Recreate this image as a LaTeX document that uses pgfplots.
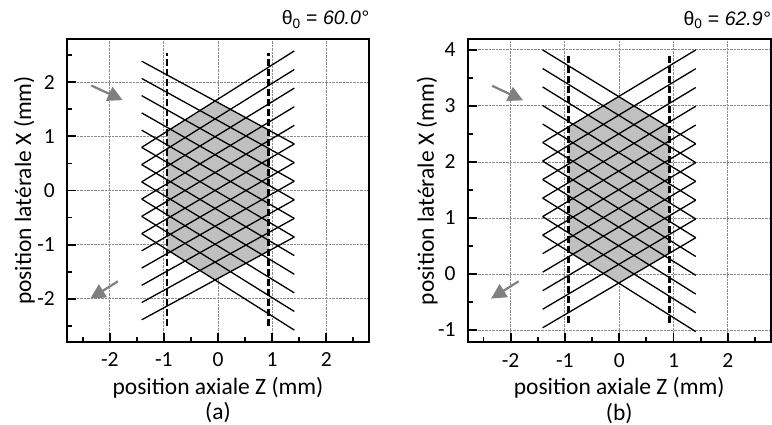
\documentclass[border=0pt]{standalone}
\usepackage{pgfplots}
\pgfplotsset{compat=1.18}
\usepackage{fontspec}
\setmainfont{Carlito}
\newfontfamily\arialfont{Liberation Sans}
\usetikzlibrary{arrows.meta}
\definecolor{hexgray}{RGB}{192,192,192}
\definecolor{arrgray}{RGB}{128,128,128}
\newcommand{\lblfont}{\fontsize{23.5}{23.5}\selectfont}
\pgfplotsset{
  myaxis/.style={
    scale only axis,
    axis line style={line width=2.4pt},
    xmin=-2.79, xmax=2.79,
    xtick={-2,-1,0,1,2}, xticklabels={-2,-1,0,1,2},
    minor xtick={-2.5,-1.5,-0.5,0.5,1.5,2.5},
    tick align=inside, xtick pos=bottom, ytick pos=left,
    major tick length=9pt, minor tick length=5pt,
    every tick/.style={line width=1.8pt, black},
    grid=major,
    major grid style={densely dotted, black!45, line width=0.9pt},
    ticklabel style={font=\fontsize{21.5}{21.5}\selectfont, inner sep=0pt},
    xticklabel style={anchor=base, yshift=-25pt},
    yticklabel style={anchor=east, xshift=-12pt},
    unbounded coords=jump,
    clip=false,
  },
  mesh/.style={black, line width=1.3pt},
  dash/.style={black, line width=2.6pt, dash pattern=on 7pt off 3pt},
  arr/.style={arrgray, line width=2.2pt, -{Triangle[length=15pt,width=15pt]}},
}
\begin{document}
\begin{tikzpicture}
\useasboundingbox (0,0) rectangle (772pt,425pt);
% ---------- panel (a)
\begin{axis}[myaxis, at={(67pt,83pt)}, anchor=south west,
  width=302pt, height=303pt,
  ymin=-2.8, ymax=2.8,
  ytick={-2,-1,0,1,2}, yticklabels={-2,-1,0,1,2},
  minor ytick={-2.5,-1.5,-0.5,0.5,1.5,2.5}]
\addplot[fill=hexgray, draw=none] coordinates {
 (-0.94,1.094) (-0.054,1.654) (0.94,1.115) (0.94,-1.115) (-0.054,-1.654) (-0.94,-1.094)} -- cycle;
\addplot[mesh] coordinates {
 (-1.41,0.797) (1.41,2.580) (nan,nan)
 (-1.41,0.478) (1.41,2.236) (nan,nan)
 (-1.41,0.159) (1.41,1.892) (nan,nan)
 (-1.41,-0.159) (1.41,1.548) (nan,nan)
 (-1.41,-0.478) (1.41,1.204) (nan,nan)
 (-1.41,-0.797) (1.41,0.860) (nan,nan)
 (-1.41,-1.115) (1.41,0.516) (nan,nan)
 (-1.41,-1.434) (1.41,0.172) (nan,nan)
 (-1.41,-1.753) (1.41,-0.172) (nan,nan)
 (-1.41,-2.071) (1.41,-0.516) (nan,nan)
 (-1.41,-2.390) (1.41,-0.860)};
\addplot[mesh] coordinates {
 (-1.41,2.390) (1.41,0.860) (nan,nan)
 (-1.41,2.071) (1.41,0.516) (nan,nan)
 (-1.41,1.753) (1.41,0.172) (nan,nan)
 (-1.41,1.434) (1.41,-0.172) (nan,nan)
 (-1.41,1.115) (1.41,-0.516) (nan,nan)
 (-1.41,0.797) (1.41,-0.860) (nan,nan)
 (-1.41,0.478) (1.41,-1.204) (nan,nan)
 (-1.41,0.159) (1.41,-1.548) (nan,nan)
 (-1.41,-0.159) (1.41,-1.892) (nan,nan)
 (-1.41,-0.478) (1.41,-2.236) (nan,nan)
 (-1.41,-0.797) (1.41,-2.580)};
\addplot[dash] coordinates {(-0.94,-2.5) (-0.94,2.55)};
\addplot[dash] coordinates {(0.93,-2.5) (0.93,2.55)};
\addplot[arr] coordinates {(-2.34,1.94) (-1.76,1.67)};
\addplot[arr] coordinates {(-1.85,-1.68) (-2.36,-2.0)};
\node[anchor=base east, inner sep=0pt, yshift=14pt, font=\arialfont\fontsize{19.5}{19.5}\selectfont]
  at (axis description cs:1,1) {θ\textsubscript{0} = \textit{60.0°}};
\node[anchor=base, inner sep=0pt, yshift=-52.6pt, font=\lblfont] at (axis description cs:0.5,0) {position axiale Z (mm)};
\node[anchor=base, inner sep=0pt, yshift=-78pt, font=\lblfont] at (axis description cs:0.5,0) {(a)};
\node[rotate=90, anchor=base, inner sep=0pt, font=\lblfont] at (axis description cs:-0.1192,0.5) {position latérale X (mm)};
\end{axis}
% ---------- panel (b)
\begin{axis}[myaxis, at={(467.7pt,82.7pt)}, anchor=south west,
  width=303pt, height=303pt,
  ymin=-1.22, ymax=4.19,
  ytick={-1,0,1,2,3,4}, yticklabels={-1,0,1,2,3,4},
  minor ytick={-0.5,0.5,1.5,2.5,3.5}]
\addplot[fill=hexgray, draw=none] coordinates {
 (-0.93,2.628) (-0.0097,3.168) (0.93,2.609) (0.93,0.373) (-0.0097,-0.1625) (-0.93,0.410)} -- cycle;
\addplot[mesh] coordinates {
 (-1.41,2.347) (1.41,4.000) (nan,nan)
 (-1.41,2.016) (1.41,3.665) (nan,nan)
 (-1.41,1.685) (1.41,3.329) (nan,nan)
 (-1.41,1.354) (1.41,2.994) (nan,nan)
 (-1.41,1.024) (1.41,2.659) (nan,nan)
 (-1.41,0.693) (1.41,2.324) (nan,nan)
 (-1.41,0.362) (1.41,1.988) (nan,nan)
 (-1.41,0.032) (1.41,1.653) (nan,nan)
 (-1.41,-0.299) (1.41,1.318) (nan,nan)
 (-1.41,-0.630) (1.41,0.982) (nan,nan)
 (-1.41,-0.961) (1.41,0.647)};
\addplot[mesh] coordinates {
 (-1.41,4.000) (1.41,2.324) (nan,nan)
 (-1.41,3.669) (1.41,1.988) (nan,nan)
 (-1.41,3.339) (1.41,1.653) (nan,nan)
 (-1.41,3.008) (1.41,1.318) (nan,nan)
 (-1.41,2.677) (1.41,0.982) (nan,nan)
 (-1.41,2.347) (1.41,0.647) (nan,nan)
 (-1.41,2.016) (1.41,0.312) (nan,nan)
 (-1.41,1.685) (1.41,-0.024) (nan,nan)
 (-1.41,1.354) (1.41,-0.359) (nan,nan)
 (-1.41,1.024) (1.41,-0.694) (nan,nan)
 (-1.41,0.693) (1.41,-1.030)};
\addplot[dash] coordinates {(-0.93,-0.87) (-0.93,3.95)};
\addplot[dash] coordinates {(0.93,-0.87) (0.93,3.95)};
\addplot[arr] coordinates {(-2.34,3.36) (-1.77,3.10)};
\addplot[arr] coordinates {(-1.85,-0.13) (-2.36,-0.44)};
\node[anchor=base east, inner sep=0pt, yshift=14pt, font=\arialfont\fontsize{19.5}{19.5}\selectfont]
  at (axis description cs:1,1) {θ\textsubscript{0} = \textit{62.9°}};
\node[anchor=base, inner sep=0pt, yshift=-52.6pt, font=\lblfont] at (axis description cs:0.5,0) {position axiale Z (mm)};
\node[anchor=base, inner sep=0pt, yshift=-78pt, font=\lblfont] at (axis description cs:0.5,0) {(b)};
\node[rotate=90, anchor=base, inner sep=0pt, font=\lblfont] at (axis description cs:-0.112,0.5) {position latérale X (mm)};
\end{axis}
\end{tikzpicture}
\end{document}
